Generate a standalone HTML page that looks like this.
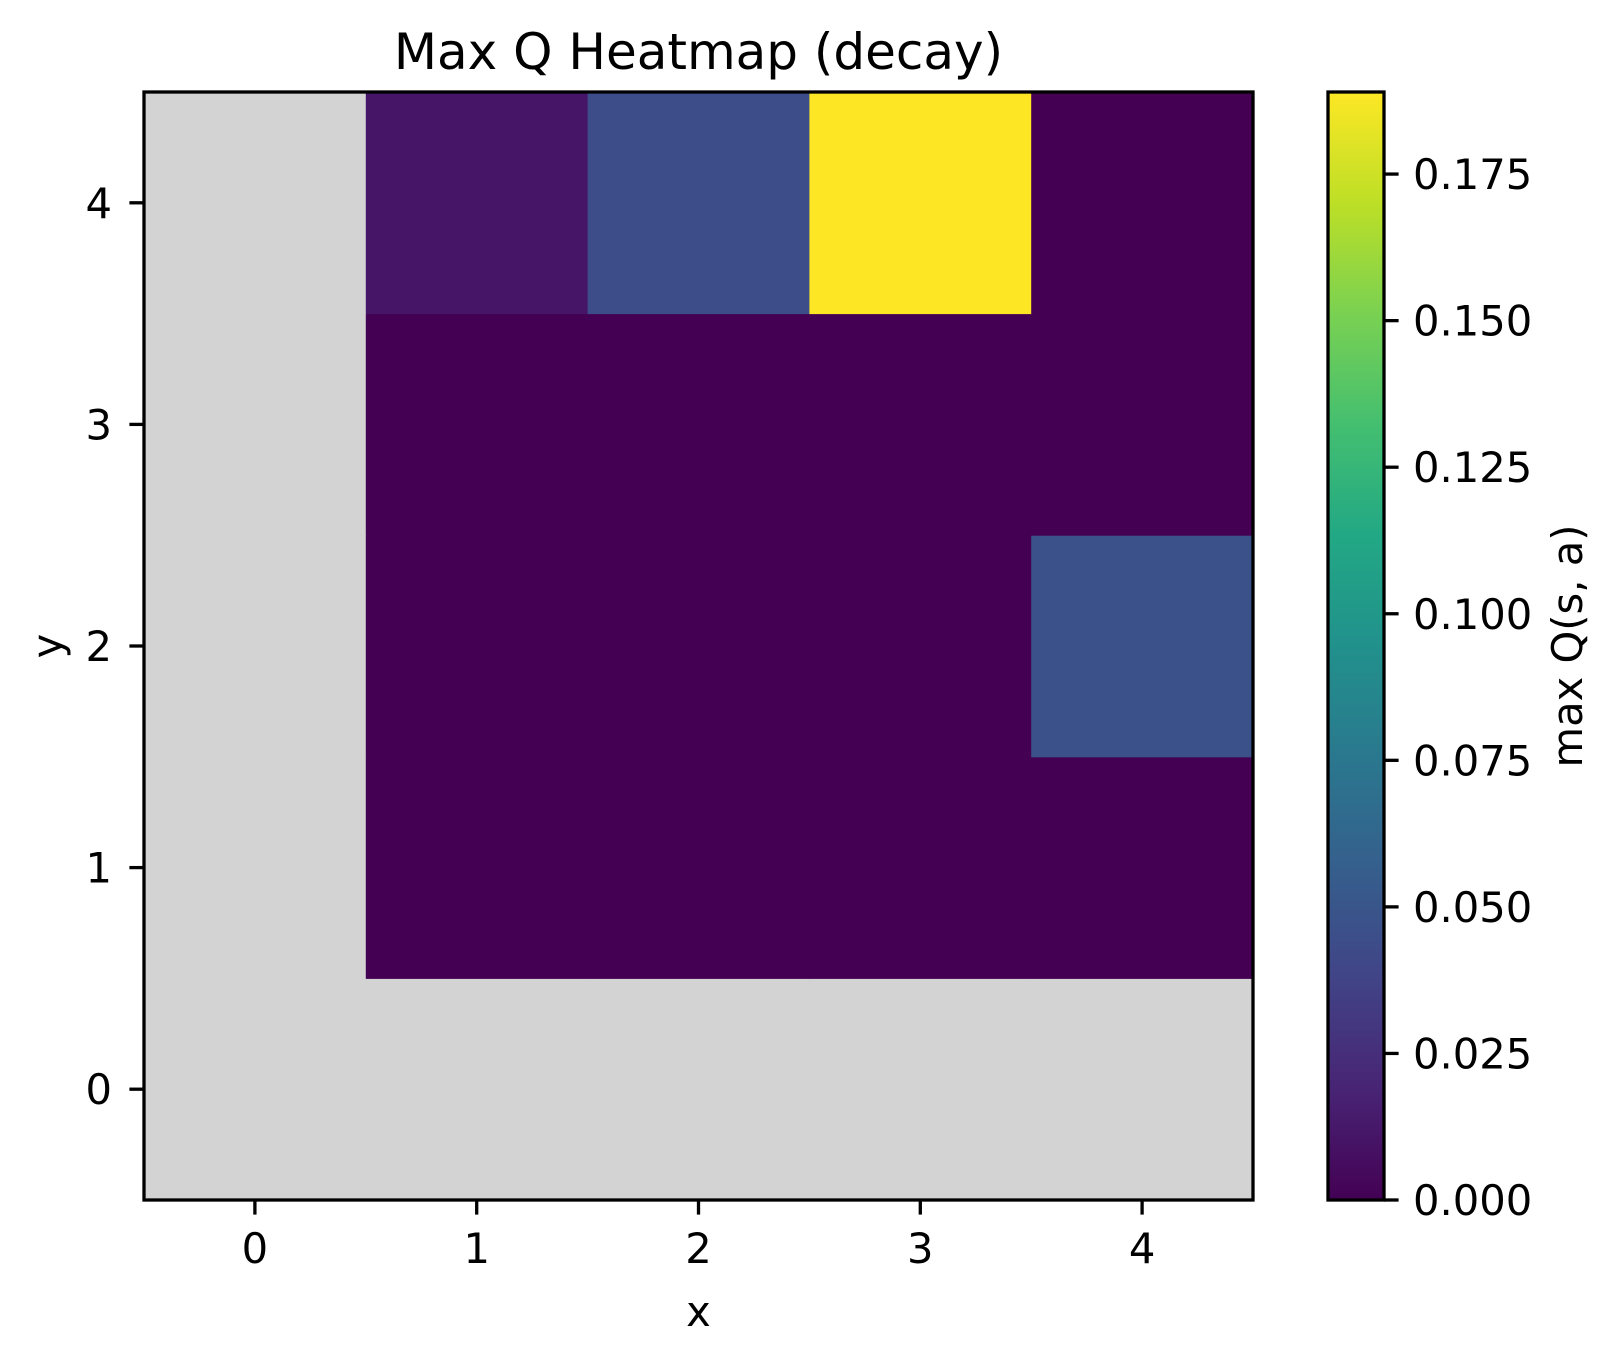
<!DOCTYPE html>
<html><head><meta charset="utf-8"><style>
html,body{margin:0;padding:0;background:#fff;}
svg text{font-family:"DejaVu Sans","Liberation Sans",sans-serif;fill:#000;}
</style></head><body>
<svg id="chart" width="1620" height="1361" viewBox="0 0 1620 1361" xmlns="http://www.w3.org/2000/svg">
<defs>
<linearGradient id="viridis" x1="0" y1="1" x2="0" y2="0">
<stop offset="0" stop-color="#440154"/><stop offset="0.1" stop-color="#482475"/>
<stop offset="0.2" stop-color="#414487"/><stop offset="0.3" stop-color="#355f8d"/>
<stop offset="0.4" stop-color="#2a788e"/><stop offset="0.5" stop-color="#21918c"/>
<stop offset="0.6" stop-color="#22a884"/><stop offset="0.7" stop-color="#44bf70"/>
<stop offset="0.8" stop-color="#7ad151"/><stop offset="0.9" stop-color="#bddf26"/>
<stop offset="1" stop-color="#fde725"/>
</linearGradient>
</defs>
<text x="698.5" y="69" font-size="50" text-anchor="middle">Max Q Heatmap (decay)</text>
<g id="cells"></g>
<g id="axes"></g>
<text x="698.5" y="1326" font-size="41.67" text-anchor="middle">x</text>
<text x="0" y="0" font-size="41.67" text-anchor="middle" transform="translate(62,646) rotate(-90)">y</text>
<rect x="1328" y="92" width="56" height="1108" fill="url(#viridis)" stroke="#000" stroke-width="3.3"/>
<g id="cbar"></g>
<text x="0" y="0" font-size="41.67" text-anchor="middle" transform="translate(1582,646) rotate(-90)">max Q(s, a)</text>
</svg>
<script>
// data: rows indexed by y (0..4), columns by x (0..4); null = not visited (gray)
const xCats = [0,1,2,3,4];
const yCats = [0,1,2,3,4];
const row0 = [null,null,null,null,null];
const row1 = [null,0,0,0,0];
const row2 = [null,0,0,0,0.047];
const row3 = [null,0,0,0,0];
const row4 = [null,0.011,0.044,0.189,0];
const cbTicks = [0,0.025,0.05,0.075,0.1,0.125,0.15,0.175];
const cbTickLabels = ["0.000","0.025","0.050","0.075","0.100","0.125","0.150","0.175"];
const vmin = 0, vmax = 0.189;

const NS="http://www.w3.org/2000/svg";
const L=144,R=1253,T=92,B=1200;
const xs=v=>L+(v+0.5)/5*(R-L);
const ys=v=>B-(v+0.5)/5*(B-T);
const cy=v=>B-(v-vmin)/(vmax-vmin)*(B-T);
const vir=[[68,1,84],[72,36,117],[65,68,135],[53,95,141],[42,120,142],[33,145,140],[34,168,132],[68,191,112],[122,209,81],[189,223,38],[253,231,37]];
function color(v){let t=Math.max(0,Math.min(1,(v-vmin)/(vmax-vmin)))*10;let i=Math.min(9,Math.floor(t)),f=t-i;
const c=vir[i].map((a,k)=>Math.round(a+(vir[i+1][k]-a)*f));return `rgb(${c})`;}
function mk(tag,attrs,parent){const e=document.createElementNS(NS,tag);for(const k in attrs)e.setAttribute(k,attrs[k]);parent.appendChild(e);return e;}
const rows=[row0,row1,row2,row3,row4];
const cells=document.getElementById('cells');
rows.forEach((row,yi)=>row.forEach((v,xi)=>{
  const x0=xs(xCats[xi]-0.5),x1=xs(xCats[xi]+0.5),y0=ys(yCats[yi]+0.5),y1=ys(yCats[yi]-0.5);
  const r=mk('rect',{x:x0,y:y0,width:x1-x0+0.5,height:y1-y0+0.5,fill:v===null?'#d3d3d3':color(v)},cells);
  
  
}));
const ax=document.getElementById('axes');
const frame=mk('rect',{x:L,y:T,width:R-L,height:B-T,fill:'none',stroke:'#000','stroke-width':3.3},ax);


xCats.forEach(v=>{
  const ln=mk('line',{x1:xs(v),x2:xs(v),y1:B,y2:B+14.6,stroke:'#000','stroke-width':3.3},ax);
  
  
  const t=mk('text',{x:xs(v),y:1263,'font-size':41.67,'text-anchor':'middle'},ax);t.textContent=v;
  
  
});
yCats.forEach(v=>{
  const ln=mk('line',{x1:L-14.6,x2:L,y1:ys(v),y2:ys(v),stroke:'#000','stroke-width':3.3},ax);
  
  
  const t=mk('text',{x:112,y:ys(v)+15,'font-size':41.67,'text-anchor':'end'},ax);t.textContent=v;
  
  
});
const cb=document.getElementById('cbar');
cbTicks.forEach((v,i)=>{
  const ln=mk('line',{x1:1384,x2:1398.6,y1:cy(v),y2:cy(v),stroke:'#000','stroke-width':3.3},cb);
  
  
  const t=mk('text',{x:1413,y:cy(v)+15,'font-size':41.67},cb);t.textContent=cbTickLabels[i];
  
  
});
</script>
</body></html>
